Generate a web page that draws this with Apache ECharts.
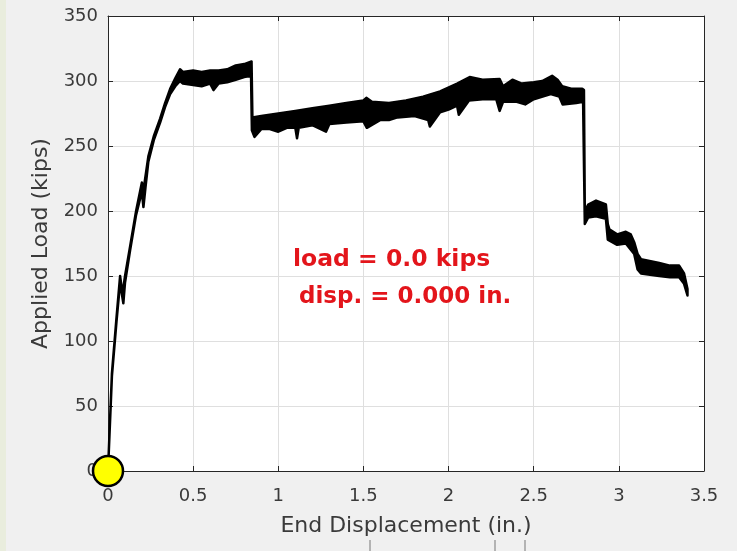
<!DOCTYPE html>
<html><head><meta charset="utf-8">
<script src="https://cdn.jsdelivr.net/npm/echarts@6/dist/echarts.min.js"></script>
<style>html,body{margin:0;padding:0;background:#f0f0f0}#c{width:737px;height:551px}</style>
</head><body><div id="c"></div>
<script>
// Upper envelope of the load-displacement band (in., kips)
const upperDisp = [0,0.023,0.05,0.071,0.085,0.1,0.13,0.165,0.199,0.205,0.215,0.237,0.27,0.306,0.335,0.365,0.395,0.423,0.44,0.5,0.55,0.6,0.65,0.7,0.75,0.8,0.843,0.848,0.9,0.95,1.0,1.1,1.2,1.3,1.4,1.5,1.517,1.55,1.65,1.75,1.85,1.95,2.05,2.124,2.2,2.3,2.32,2.375,2.43,2.5,2.55,2.608,2.64,2.667,2.72,2.785,2.795,2.80,2.82,2.866,2.924,2.935,2.944,2.99,3.041,3.07,3.09,3.11,3.13,3.237,3.3,3.354,3.383,3.403];
const upperLoad = [0,75,118,150,136,150,173,200,222,212,222,242,258,271,283,294,302,309,307,308,307,308,308,309,312,313,315,272,273,274,275,277,279,281,283,285,287,284,283,285,288,292,298,303,301,301.5,296,301,298,299,300,304,301,296,294,294,293,200,205,208,205,190,186,182,184,182,176,167,163,160,158,158,152,140];
// Lower envelope (bottom of the oscillation band, with dips)
const lowerDisp = [0,0.023,0.05,0.071,0.09,0.1,0.13,0.165,0.199,0.208,0.22,0.237,0.27,0.306,0.335,0.365,0.395,0.423,0.44,0.5,0.55,0.6,0.62,0.65,0.7,0.75,0.8,0.84,0.845,0.86,0.9,0.95,1.0,1.05,1.1,1.11,1.12,1.2,1.28,1.3,1.4,1.5,1.52,1.6,1.65,1.7,1.8,1.88,1.89,1.95,2.0,2.05,2.06,2.12,2.2,2.28,2.3,2.32,2.4,2.45,2.5,2.6,2.65,2.67,2.75,2.79,2.80,2.82,2.866,2.924,2.935,2.99,3.041,3.09,3.11,3.13,3.237,3.3,3.354,3.383,3.403];
const lowerLoad = [0,73,115,145,129,145,170,197,215,203,218,238,255,268,280,290,296,300,298,297,296,298,293,298,299,301,303,304,262,257,263,263,261,264,264,256,264,266,261,267,268,269,264,270,270,272,273,270,265,276,278,281,274,285,286,286,277,284,284,282,286,290,288,282,283,284,190,195,196,194,178,174,175,167,155,152,150,149,149,144,135];
// Current marker position
const markerPoint = [[0,0]];
const xTicks = {min:0,max:3.5,interval:0.5};
const yTicks = {min:0,max:350,interval:50};
const xName = 'End Displacement (in.)';
const yName = 'Applied Load (kips)';
const infoLines = ['load = 0.0 kips',' disp. = 0.000 in.'];

const bandPts = [];
upperDisp.forEach((x,i)=>bandPts.push([x,upperLoad[i]]));
for(let i=lowerDisp.length-1;i>=0;i--) bandPts.push([lowerDisp[i],lowerLoad[i]]);

const font = '"DejaVu Sans", sans-serif';
const txtColor = '#3a3a3a';
const chart = echarts.init(document.getElementById('c'));
const axisCommon = {
  axisLine:{show:true,onZero:false,lineStyle:{color:'#262626',width:1}},
  axisTick:{show:true,inside:true,length:5,lineStyle:{color:'#262626'}},
};
chart.setOption({
  backgroundColor:'#f0f0f0',
  animation:false,
  grid:{left:108,right:33,top:16,bottom:80,show:true,backgroundColor:'#ffffff',borderWidth:0},
  xAxis:[
    Object.assign({type:'value',position:'bottom',min:xTicks.min,max:xTicks.max,interval:xTicks.interval,
      name:xName,nameLocation:'middle',nameGap:44,
      nameTextStyle:{fontFamily:font,fontSize:22,color:txtColor},
      axisLabel:{fontFamily:font,fontSize:18,color:txtColor,margin:16},
      splitLine:{show:true,lineStyle:{color:'#dfdfdf',width:1}}},axisCommon),
    Object.assign({type:'value',position:'top',min:xTicks.min,max:xTicks.max,interval:xTicks.interval,
      axisLabel:{show:false},splitLine:{show:false}},axisCommon)
  ],
  yAxis:[
    Object.assign({type:'value',position:'left',min:yTicks.min,max:yTicks.max,interval:yTicks.interval,
      name:yName,nameLocation:'middle',nameGap:55,
      nameTextStyle:{fontFamily:font,fontSize:22,color:txtColor},
      axisLabel:{fontFamily:font,fontSize:18,color:txtColor,margin:10},
      splitLine:{show:true,lineStyle:{color:'#dfdfdf',width:1}}},axisCommon),
    Object.assign({type:'value',position:'right',min:yTicks.min,max:yTicks.max,interval:yTicks.interval,
      axisLabel:{show:false},splitLine:{show:false}},axisCommon)
  ],
  graphic:[
    {type:'rect',left:0,top:0,shape:{width:6,height:551},style:{fill:'#e9eddd'},z:-1},
    {type:'text',left:293,top:248,style:{text:infoLines[0],font:'bold 23.5px '+font,fill:'#e3151b'},z:100},
    {type:'text',left:291,top:286,style:{text:infoLines[1],font:'bold 23px '+font,fill:'#e3151b'},z:100},
    {type:'line',shape:{x1:370,y1:540,x2:370,y2:551},style:{stroke:'#777',lineWidth:1}},
    {type:'line',shape:{x1:495,y1:540,x2:495,y2:551},style:{stroke:'#777',lineWidth:1}},
    {type:'line',shape:{x1:525,y1:540,x2:525,y2:551},style:{stroke:'#777',lineWidth:1}}
  ],
  series:[
    {type:'custom',xAxisIndex:0,yAxisIndex:0,data:[0],z:3,
     renderItem:function(params,api){
       const pts = bandPts.map(p=>api.coord(p));
       return {type:'polygon',shape:{points:pts},style:{fill:'#000',stroke:'#000',lineWidth:2.5,lineJoin:'round'}};
     }},
    {type:'scatter',data:markerPoint,symbolSize:30,clip:false,z:10,
     itemStyle:{color:'#ffff00',borderColor:'#000',borderWidth:2.5,opacity:1}}
  ]
});
</script></body></html>
